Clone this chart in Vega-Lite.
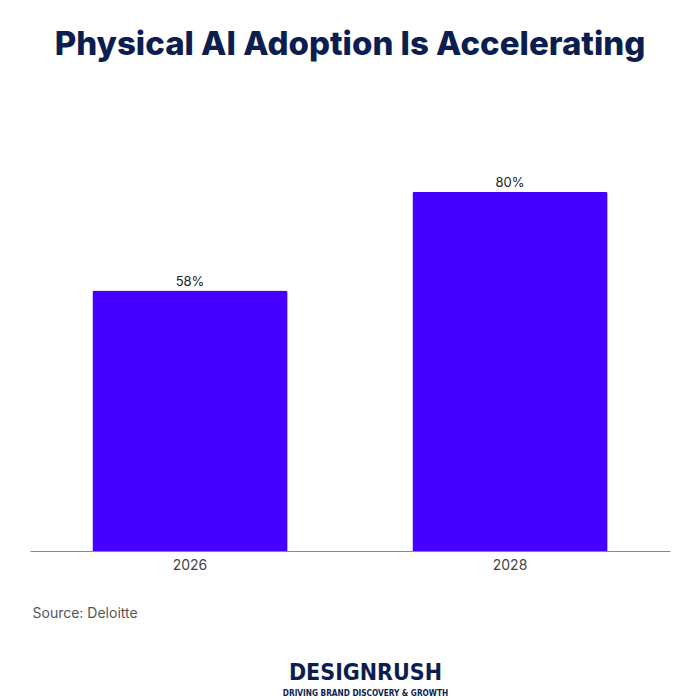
{
  "$schema": "https://vega.github.io/schema/vega-lite/v6.json",
  "width": 640,
  "height": 449,
  "autosize": "none",
  "padding": {"left": 30, "top": 102, "right": 30, "bottom": 149},
  "background": "white",
  "title": {
    "text": "Physical AI Adoption Is Accelerating",
    "font": "Inter",
    "fontSize": 33,
    "fontWeight": 800,
    "color": "#0c1e50",
    "anchor": "middle",
    "offset": 40
  },
  "config": {"view": {"stroke": null}},
  "data": {
    "values": [
      {"year": "2026", "share": 0.58},
      {"year": "2028", "share": 0.80}
    ]
  },
  "encoding": {
    "x": {
      "field": "year",
      "type": "nominal",
      "scale": {"paddingInner": 0.39, "paddingOuter": 0.195},
      "axis": {
        "labelAngle": 0,
        "labelFont": "Inter",
        "labelFontSize": 14,
        "labelColor": "#444444",
        "labelPadding": 7,
        "ticks": false,
        "domainColor": "#888888",
        "domainWidth": 1,
        "title": "Source: Deloitte",
        "titleFont": "Inter",
        "titleFontSize": 14,
        "titleFontWeight": "normal",
        "titleColor": "#555555",
        "titleAlign": "left",
        "titleAnchor": "start",
        "titleBaseline": "alphabetic",
        "titleX": 2,
        "titleY": 66
      }
    }
  },
  "layer": [
    {
      "mark": {"type": "bar", "color": "#4600ff", "cornerRadiusTopLeft": 2, "cornerRadiusTopRight": 2},
      "encoding": {
        "y": {
          "field": "share",
          "type": "quantitative",
          "scale": {"domain": [0, 1]},
          "axis": {
            "labels": false,
            "ticks": false,
            "domain": false,
            "grid": false,
            "title": "DESIGNRUSH",
            "titleAngle": 0,
            "titleFont": "DejaVu Sans Condensed",
            "titleFontSize": 23,
            "titleFontWeight": "bold",
            "titleColor": "#0c1e50",
            "titleAlign": "center",
            "titleBaseline": "alphabetic",
            "titleX": 335,
            "titleY": 577
          }
        }
      }
    },
    {
      "mark": {"type": "text", "font": "Inter", "fontSize": 13, "color": "#222222", "baseline": "alphabetic", "dy": -5},
      "encoding": {
        "y": {
          "field": "share",
          "type": "quantitative",
          "scale": {"domain": [0, 1]},
          "axis": {
            "orient": "right",
            "labels": false,
            "ticks": false,
            "domain": false,
            "grid": false,
            "title": "DRIVING BRAND DISCOVERY & GROWTH",
            "titleAngle": 0,
            "titleFont": "DejaVu Sans Condensed",
            "titleFontSize": 8.2,
            "titleFontWeight": "bold",
            "titleColor": "#0c1e50",
            "titleAlign": "center",
            "titleBaseline": "alphabetic",
            "titleX": -305,
            "titleY": 593
          }
        },
        "text": {"field": "share", "type": "quantitative", "format": ".0%"}
      }
    }
  ],
  "resolve": {"axis": {"y": "independent"}}
}
